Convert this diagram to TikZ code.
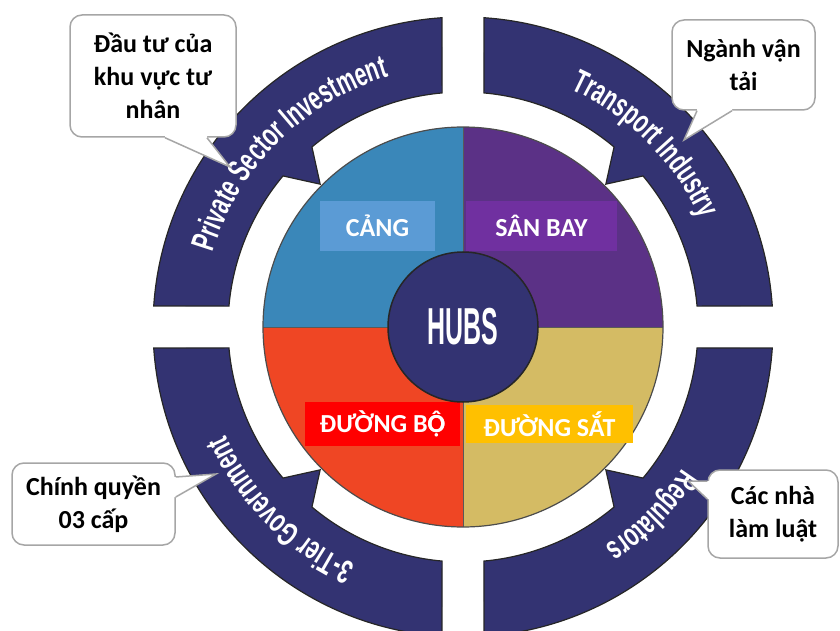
\documentclass[tikz,border=0pt]{standalone}
\usepackage{fontspec}
\setmainfont{Carlito}
\newfontfamily\bandfont[FakeStretch=0.64]{Liberation Sans}
\newfontfamily\hubfont[FakeStretch=0.48]{Liberation Sans}
\usetikzlibrary{calc,decorations.text}

\definecolor{navy}{RGB}{51,51,114}
\definecolor{portblue}{RGB}{58,135,185}
\definecolor{airpurple}{RGB}{91,49,134}
\definecolor{roadred}{RGB}{239,70,36}
\definecolor{railtan}{RGB}{212,187,100}
\definecolor{portbox}{RGB}{91,155,213}
\definecolor{airbox}{RGB}{112,48,160}
\definecolor{roadbox}{RGB}{255,0,0}
\definecolor{railbox}{RGB}{255,192,0}
\definecolor{bubgray}{RGB}{166,166,166}

\tikzset{
  band/.style={fill=navy, draw=black!85, line width=1.2pt},
  tag/.style={text=white, font=\fontsize{26}{30}\selectfont\bfseries, inner sep=0pt},
  bubble/.style={draw=bubgray, line width=1.5pt, fill=white, rounded corners=12pt,
    align=center, font=\fontsize{26}{33}\selectfont\bfseries, inner sep=0pt},
  tail/.style={draw=bubgray, line width=1.5pt, line join=miter},
}

\begin{document}
\begin{tikzpicture}[x=1pt, y=1pt]
\useasboundingbox (0,0) rectangle (840,630);
\clip (0,0) rectangle (840,630);
\coordinate (C) at (463,303);

% Outer ring: four bands with inward barbs
\foreach \d in {45,135,225,315}{
  \draw[band] ($(C)+({\d+41.1}:310)$) arc[start angle={\d+41.1}, end angle={\d-41.1}, radius=310]
    -- ($(C)+({\d-39.9}:235)$) arc[start angle={\d-39.9}, end angle={\d-5}, radius=235]
    -- ($(C)+(\d:202)$) -- ($(C)+({\d+5}:235)$)
    arc[start angle={\d+5}, end angle={\d+39.9}, radius=235] -- cycle;
}

% Band titles
\path[decorate, decoration={text along path, text align=center,
  text={|\bandfont\bfseries\fontsize{33}{33}\selectfont\color{white}|Private Sector Investment}}]
  ($(C)+(179:261)$) arc[start angle=179, end angle=91, radius=261];
\path[decorate, decoration={text along path, text align=center,
  text={|\bandfont\bfseries\fontsize{33}{33}\selectfont\color{white}|Transport Industry}}]
  ($(C)+(89:261)$) arc[start angle=89, end angle=1, radius=261];
\path[decorate, decoration={text along path, text align=center,
  text={|\bandfont\bfseries\fontsize{33}{33}\selectfont\color{white}|3-Tier Government}}]
  ($(C)+(269:261)$) arc[start angle=269, end angle=181, radius=261];
\path[decorate, decoration={text along path, text align=center,
  text={|\bandfont\bfseries\fontsize{33}{33}\selectfont\color{white}|Regulators}}]
  ($(C)+(359:261)$) arc[start angle=359, end angle=271, radius=261];

% Hub disc quarters
\fill[portblue] (C) -- ($(C)+(90:200)$) arc[start angle=90, end angle=180, radius=200] -- cycle;
\fill[airpurple] (C) -- ($(C)+(0:200)$) arc[start angle=0, end angle=90, radius=200] -- cycle;
\fill[roadred] (C) -- ($(C)+(180:200)$) arc[start angle=180, end angle=270, radius=200] -- cycle;
\fill[railtan] (C) -- ($(C)+(270:200)$) arc[start angle=270, end angle=360, radius=200] -- cycle;
\draw[black!65, line width=1pt] ($(C)+(0,200)$) -- ($(C)+(0,-200)$);
\draw[black!65, line width=1pt] ($(C)+(-200,0)$) -- ($(C)+(200,0)$);
\draw[black!70, line width=1.2pt] (C) circle[radius=200];

% Quarter labels
\node[tag, fill=portbox, minimum width=115pt, minimum height=50pt] (cang) at (377.5,404) {CẢNG};
\node[tag, fill=airbox, minimum width=151pt, minimum height=50pt] (sanbay) at (541.5,404) {SÂN BAY};
\node[tag, fill=roadbox, minimum width=155pt, minimum height=44pt] (duongbo) at (382.5,206) {ĐƯỜNG B\ooalign{Ô\cr ^^^^1ecc\cr}};
\node[tag, fill=railbox, minimum width=167pt, minimum height=38pt] (duongsat) at (549.5,206) {ĐƯỜNG SẮT};

% Centre
\node[circle, fill=navy, draw=black!85, line width=1.5pt, minimum size=150pt, inner sep=0pt,
  text=white, font=\hubfont\bfseries\fontsize{52}{52}\selectfont] (hub) at (C) {HUBS};

% Callout bubbles
\node[bubble, minimum width=166pt, minimum height=122pt] (invest) at (153,554) {Đầu tư của\\khu vực tư\\nhân};
\node[bubble, minimum width=143pt, minimum height=90pt] (trans) at (743.5,565) {Ngành vận\\tải};
\node[bubble, minimum width=163pt, minimum height=82pt] (gov) at (93.5,126) {Chính quyền\\03 cấp};
\node[bubble, minimum width=130pt, minimum height=88pt] (reg) at (773,116) {Các nhà\\làm luật};

\coordinate (invtip) at (230,463);
\coordinate (transtip) at (684,490);
\coordinate (govtip) at (216,156);
\coordinate (regtip) at (688,149);

\fill[white] ($(invest.south)+(12,2)$) -- ($(invest.south)+(12,0)$) -- (invtip)
  -- ($(invest.south)+(54,0)$) -- ($(invest.south)+(54,2)$) -- cycle;
\draw[tail] ($(invest.south)+(12,0)$) -- (invtip) -- ($(invest.south)+(54,0)$);

\fill[white] ($(trans.south)+(-46.5,2)$) -- ($(trans.south)+(-46.5,0)$) -- (transtip)
  -- ($(trans.south)+(-11.5,0)$) -- ($(trans.south)+(-11.5,2)$) -- cycle;
\draw[tail] ($(trans.south)+(-46.5,0)$) -- (transtip) -- ($(trans.south)+(-11.5,0)$);

\fill[white] ($(gov.east)+(-2,27)$) -- ($(gov.east)+(0,27)$) -- (govtip)
  -- ($(gov.east)+(0,7)$) -- ($(gov.east)+(-2,7)$) -- cycle;
\draw[tail] ($(gov.east)+(0,27)$) -- (govtip) -- ($(gov.east)+(0,7)$);

\fill[white] ($(reg.west)+(2,33)$) -- ($(reg.west)+(0,33)$) -- (regtip)
  -- ($(reg.west)+(0,15)$) -- ($(reg.west)+(2,15)$) -- cycle;
\draw[tail] ($(reg.west)+(0,33)$) -- (regtip) -- ($(reg.west)+(0,15)$);
\end{tikzpicture}
\end{document}
